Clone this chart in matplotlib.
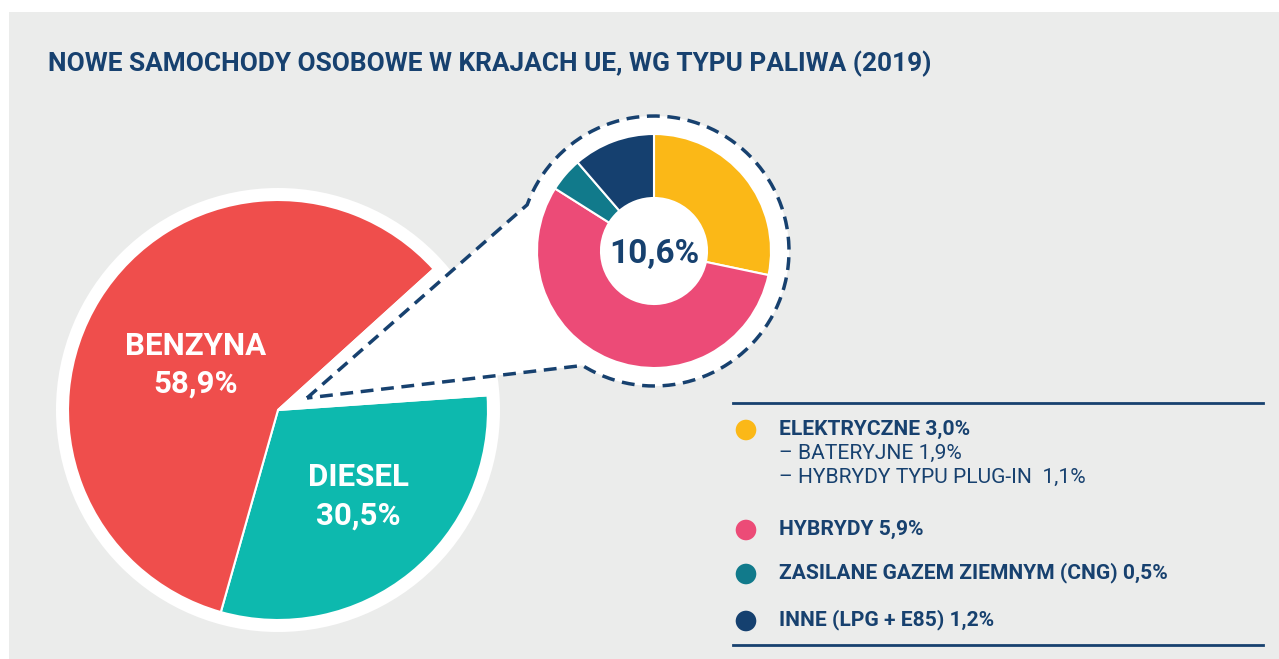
import numpy as np
import matplotlib.pyplot as plt
from matplotlib.patches import Circle, Rectangle, PathPatch
from matplotlib.path import Path

plt.rcParams['font.family'] = ['Roboto', 'DejaVu Sans']

# data
main_labels = ['DIESEL', 'BENZYNA', 'INNE']
main_values = [30.5, 58.9, 10.6]
main_colors = ['#0DB9AE', '#EF4E4C', 'none']

sub_labels = ['ELEKTRYCZNE 3,0%', 'HYBRYDY 5,9%', 'ZASILANE GAZEM ZIEMNYM (CNG) 0,5%', 'INNE (LPG + E85) 1,2%']
sub_values = [3.0, 5.9, 0.5, 1.2]
sub_colors = ['#FBB817', '#EC4B77', '#117A8B', '#15406F']
elec_detail = ['– BATERYJNE 1,9%', '– HYBRYDY TYPU PLUG-IN  1,1%']

title = 'NOWE SAMOCHODY OSOBOWE W KRAJACH UE, WG TYPU PALIWA (2019)'
navy = '#17416F'

W, H = 1279, 659
def Y(y):
    return H - y

fig = plt.figure(figsize=(W/100, H/100), dpi=100, facecolor='white')
ax = fig.add_axes([0, 0, 1, 1])

ax.add_patch(Rectangle((9, 0), W-9, H-12, facecolor='#EBECEB', edgecolor='none', zorder=0))

# main pie
cx, cy, r = 278, Y(410), 210
ax.add_patch(Circle((cx, cy), r+12, facecolor='white', edgecolor='none', zorder=1))

# callout shape
dx, dy, dr = 654, Y(251), 135
tip = (307, Y(398))
ang = np.radians(np.linspace(160, -122, 200))
arc = np.column_stack([dx + dr*np.cos(ang), dy + dr*np.sin(ang)])
verts = np.vstack([[tip], arc, [tip]])
ax.add_patch(PathPatch(Path(verts[:-1]), facecolor='white', edgecolor='none', zorder=1))

ax.pie(main_values, colors=main_colors, startangle=4, counterclock=False,
       center=(cx, cy), radius=r,
       wedgeprops=dict(edgecolor='white', linewidth=1.5, zorder=2))

ax.add_patch(PathPatch(Path(verts), facecolor='none', edgecolor=navy,
                       linewidth=2.5, linestyle=(0, (3.7, 2.2)), zorder=3))

# donut
ax.pie(sub_values, colors=sub_colors, startangle=90, counterclock=False,
       center=(dx, dy), radius=117,
       wedgeprops=dict(width=64, edgecolor='white', linewidth=1.5, zorder=4))

ax.text(dx, Y(263), '10,6%', ha='center', va='baseline', fontsize=24, fontweight='bold', color=navy, zorder=5)

pie_txt = dict(ha='center', va='baseline', fontsize=22.5, fontweight='bold', color='white', zorder=5)
ax.text(196, Y(355), 'BENZYNA', **pie_txt)
ax.text(196, Y(393), '58,9%', **pie_txt)
ax.text(358, Y(486), 'DIESEL', **pie_txt)
ax.text(358, Y(525), '30,5%', **pie_txt)

ax.text(48, Y(64), title, ha='left', va='center', fontsize=18.9, fontweight='bold', color=navy, zorder=5)

# legend
ax.plot([733, 1263], [Y(403), Y(403)], color=navy, lw=2, zorder=5)
ax.plot([733, 1263], [Y(645), Y(645)], color=navy, lw=2, zorder=5)
leg_y = [429, 529, 573, 620]
for lab, col, yy in zip(sub_labels, sub_colors, leg_y):
    ax.add_patch(Circle((746, Y(yy+1)), 10.3, facecolor=col, edgecolor='none', zorder=5))
    ax.text(779, Y(yy), lab, ha='left', va='center', fontsize=15.1, fontweight='bold', color=navy, zorder=5)
for lab, yy in zip(elec_detail, [453, 477]):
    ax.text(779, Y(yy), lab, ha='left', va='center', fontsize=15.1, color=navy, zorder=5)

ax.set_xlim(0, W)
ax.set_ylim(0, H)
ax.set_aspect('auto')
ax.axis('off')

fig.savefig('out.png', dpi=100, facecolor='white')
